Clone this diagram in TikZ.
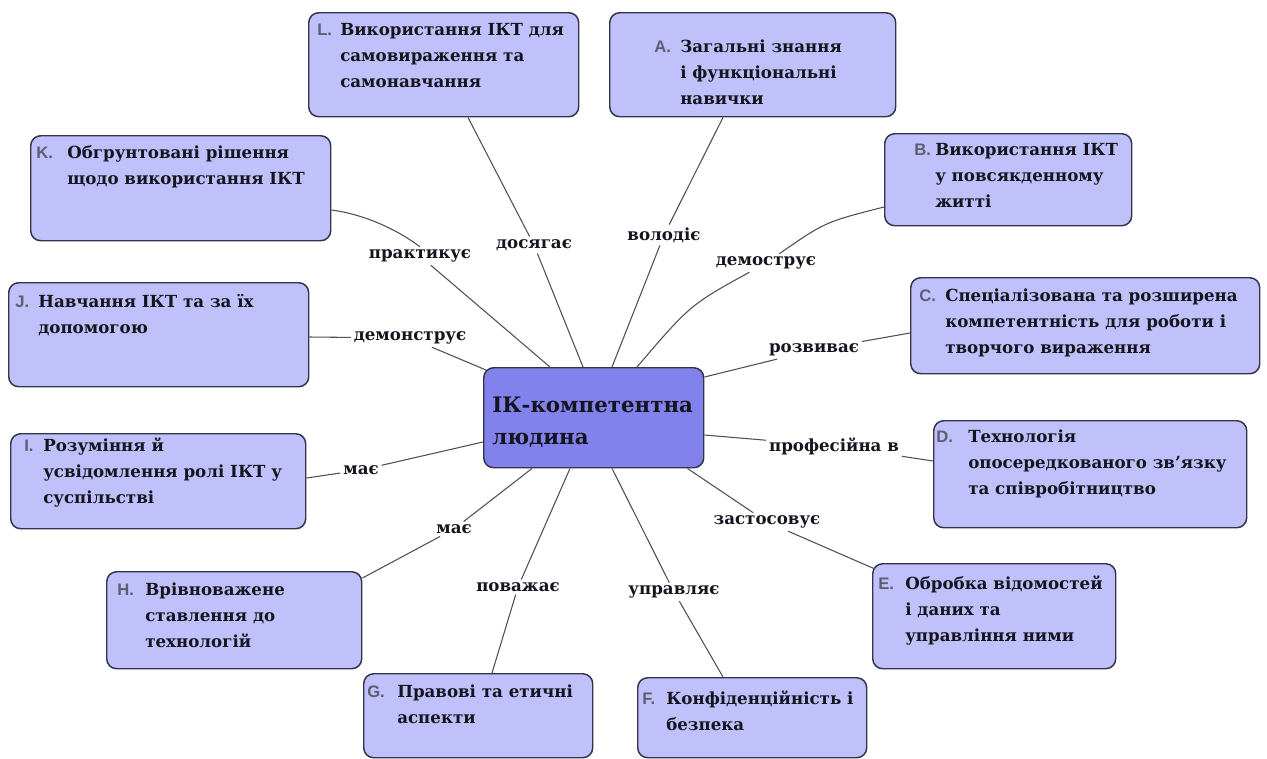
\documentclass[tikz,border=0pt]{standalone}
\usepackage{fontspec}
\setmainfont{DejaVu Serif}
\newfontfamily\preffont{Liberation Sans}
\usetikzlibrary{calc}
\definecolor{boxfill}{HTML}{C0C0FA}
\definecolor{ctrfill}{HTML}{8282EC}
\definecolor{boxline}{HTML}{33334A}
\definecolor{conncol}{HTML}{505050}
\definecolor{prefcol}{HTML}{5E5E70}
\definecolor{txtcol}{HTML}{15151F}
\tikzset{
  box/.style={draw=boxline, line width=1.1pt, fill=boxfill, rounded corners=7.5pt, anchor=north west, inner sep=0pt},
  ctrbox/.style={box, fill=ctrfill},
  txt/.style={anchor=base west, inner sep=0pt, text=txtcol, font=\fontsize{12.5}{19.5}\selectfont\bfseries},
  ctrtxt/.style={anchor=base west, inner sep=0pt, text=txtcol, font=\fontsize{16}{24}\selectfont\bfseries},
  pre/.style={anchor=base west, inner sep=0pt, text=prefcol, font=\preffont\fontsize{12.5}{14}\selectfont\bfseries},
  lbl/.style={inner sep=2pt, text=txtcol, font=\fontsize{12.5}{15}\selectfont\bfseries},
  conn/.style={draw=conncol, line width=0.8pt},
}
\newcommand\mlines[1]{\begin{tabular}[t]{@{}l@{}}#1\end{tabular}}
\begin{document}
\begin{tikzpicture}[x=0.75pt,y=-0.75pt]
\useasboundingbox (0,0) rectangle (1267,758);
% boxes
\node[ctrbox, minimum width=165pt, minimum height=75pt] (ctr) at (483,367) {};
\node[box, minimum width=202.5pt, minimum height=78pt] (L) at (308,12) {};
\node[box, minimum width=214.5pt, minimum height=78pt] (A) at (609,12) {};
\node[box, minimum width=185.25pt, minimum height=69pt] (B) at (884,133) {};
\node[box, minimum width=261.75pt, minimum height=72pt] (C) at (910,277) {};
\node[box, minimum width=234.75pt, minimum height=80.25pt] (D) at (933,420) {};
\node[box, minimum width=182.25pt, minimum height=78.75pt] (E) at (872,563) {};
\node[box, minimum width=171.75pt, minimum height=60pt] (F) at (637,677) {};
\node[box, minimum width=171.75pt, minimum height=63pt] (G) at (363,673) {};
\node[box, minimum width=191.25pt, minimum height=72.75pt] (H) at (106,571) {};
\node[box, minimum width=221.25pt, minimum height=71.25pt] (I) at (10,433) {};
\node[box, minimum width=225pt, minimum height=78pt] (J) at (8,282) {};
\node[box, minimum width=225pt, minimum height=78.75pt] (K) at (30,135) {};
% texts
\node[ctrtxt] (tctr) at (492,412) {\mlines{ІК-компетентна\\людина}};
\node[pre] (pL) at (317,35) {L.};
\node[txt] (tL) at (340,35) {\mlines{Використання ІКТ для\\самовираження та\\самонавчання}};
\node[pre] (pA) at (654,52) {A.};
\node[txt] (tA) at (680,52) {\mlines{Загальні знання\\і функціональні\\навички}};
\node[pre] (pB) at (914,155) {B.};
\node[txt] (tB) at (935,155) {\mlines{Використання ІКТ\\у повсякденному\\житті}};
\node[pre] (pC) at (919,301) {C.};
\node[txt] (tC) at (945,301) {\mlines{Спеціалізована та розширена\\компетентність для роботи і\\творчого вираження}};
\node[pre] (pD) at (936,442) {D.};
\node[txt] (tD) at (968,442) {\mlines{Технологія\\опосередкованого зв'язку\\та співробітництво}};
\node[pre] (pE) at (878,589) {E.};
\node[txt] (tE) at (905,589) {\mlines{Обробка відомостей\\і даних та\\управління ними}};
\node[pre] (pF) at (642,704) {F.};
\node[txt] (tF) at (666,704) {\mlines{Конфіденційність і\\безпека}};
\node[pre] (pG) at (367,697) {G.};
\node[txt] (tG) at (397,697) {\mlines{Правові та етичні\\аспекти}};
\node[pre] (pH) at (117,595) {H.};
\node[txt] (tH) at (145,595) {\mlines{Врівноважене\\ставлення до\\технологій}};
\node[pre] (pI) at (24,451) {I.};
\node[txt] (tI) at (43,451) {\mlines{Розуміння й\\усвідомлення ролі ІКТ у\\суспільстві}};
\node[pre] (pJ) at (15,307) {J.};
\node[txt] (tJ) at (38,307) {\mlines{Навчання ІКТ та за їх\\допомогою}};
\node[pre] (pK) at (36,158) {K.};
\node[txt] (tK) at (67,158) {\mlines{Обгрунтовані рішення\\щодо використання ІКТ}};
% labels
\node[lbl] (lL) at (534,245) {досягає};
\node[lbl] (lA) at (664,235) {володіє};
\node[lbl] (lB) at (766,263) {демострує};
\node[lbl] (lC) at (814,350) {розвиває};
\node[lbl] (lD) at (834,446) {професійна в};
\node[lbl] (lE) at (767,522) {застосовує};
\node[lbl] (lF) at (674,592) {управляє};
\node[lbl] (lG) at (518,587) {поважає};
\node[lbl] (lH) at (454,529) {має};
\node[lbl] (lI) at (361,470) {має};
\node[lbl] (lJ) at (410,338) {демонструє};
\node[lbl] (lK) at (420,256) {практикує};
% connectors
\draw[conn] ($(L.south west)+(160,0)$) -- (lL) -- ($(ctr.north west)+(100,0)$);
\draw[conn] ($(A.south west)+(114,0)$) -- (lA) -- ($(ctr.north west)+(129,0)$);
\draw[conn] ($(B.north west)+(0,74)$) .. controls (825,222) .. (lB);
\draw[conn] (lB) .. controls (690,305) .. ($(ctr.north west)+(154,0)$);
\draw[conn] ($(C.north west)+(0,56)$) -- (lC) -- ($(ctr.north east)+(0,10)$);
\draw[conn] ($(D.north west)+(0,41)$) -- (lD) -- ($(ctr.north east)+(0,68)$);
\draw[conn] ($(E.north west)+(3,6)$) -- (lE) -- ($(ctr.south east)+(-17,0)$);
\draw[conn] ($(F.north west)+(86,0)$) -- (lF) -- ($(ctr.south west)+(129,0)$);
\draw[conn] ($(G.north west)+(129,0)$) -- (lG) -- ($(ctr.south west)+(87,0)$);
\draw[conn] ($(H.north east)+(0,7)$) -- (lH) -- ($(ctr.south west)+(49,0)$);
\draw[conn] ($(I.north east)+(0,45)$) -- (lI) -- ($(ctr.north west)+(0,75)$);
\draw[conn] ($(J.north east)+(0,55)$) -- (lJ) -- ($(ctr.north west)+(3,3)$);
\draw[conn] ($(K.north east)+(0,75)$) .. controls (362,214) and (395,228) .. (lK.north);
\draw[conn] (lK) -- ($(ctr.north west)+(67,0)$);
\end{tikzpicture}
\end{document}
